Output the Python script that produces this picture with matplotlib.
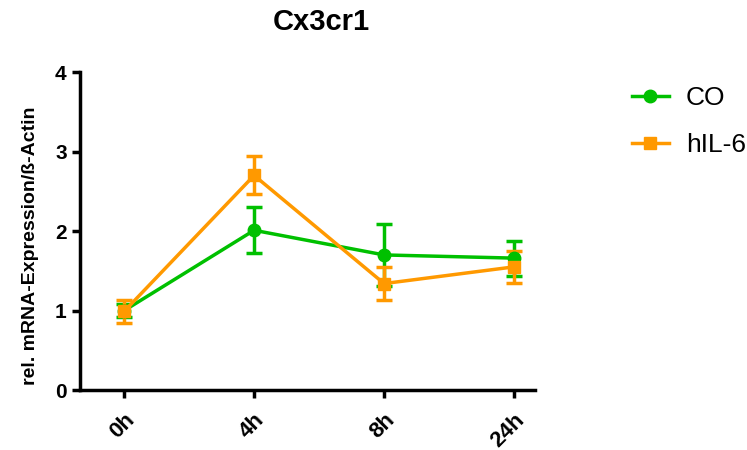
import matplotlib
matplotlib.use('Agg')
import matplotlib.pyplot as plt
from matplotlib.lines import Line2D
import numpy as np

plt.rcParams['font.family'] = ['Liberation Sans', 'DejaVu Sans']

times = ['0h', '4h', '8h', '24h']
co_mean = [1.0, 2.01, 1.70, 1.66]
co_err = [0.08, 0.29, 0.39, 0.22]
il6_mean = [0.99, 2.70, 1.34, 1.55]
il6_err = [0.14, 0.24, 0.21, 0.20]

green = '#00c000'
orange = '#ff9900'

fig = plt.figure(figsize=(7.47, 4.5), dpi=100)
ax = fig.add_axes([0.107, 0.133, 0.609, 0.707])

x = np.arange(len(times))
ax.errorbar(x, co_mean, yerr=co_err, color=green, marker='o', markersize=9,
            lw=2.5, capsize=6, capthick=2.5, elinewidth=2.5)
ax.errorbar(x, il6_mean, yerr=il6_err, color=orange, marker='s', markersize=9,
            lw=2.5, capsize=6, capthick=2.5, elinewidth=2.5)

ax.set_xlim(-0.34, 3.16)
ax.set_ylim(0, 4)
ax.set_yticks([0, 1, 2, 3, 4])
ax.set_xticks(x)
ax.set_xticklabels(times, rotation=45, ha='right', rotation_mode='anchor')
for lab in ax.get_yticklabels():
    lab.set_fontweight('bold')
    lab.set_fontsize(15)
for lab in ax.get_xticklabels():
    lab.set_fontweight('bold')
    lab.set_fontsize(16)
ax.tick_params(width=2.5, length=6, direction='out')
ax.tick_params(axis='x', pad=8)
ax.spines['top'].set_visible(False)
ax.spines['right'].set_visible(False)
ax.spines['left'].set_linewidth(2.5)
ax.spines['bottom'].set_linewidth(2.5)
ax.set_ylabel('rel. mRNA-Expression/ß-Actin', fontsize=14, fontweight='bold')
ax.yaxis.set_label_coords(-0.09, 0.455)

fig.text(0.43, 0.95, 'Cx3cr1', fontsize=21, fontweight='bold', ha='center', va='center')

handles = [Line2D([], [], color=green, marker='o', markersize=9, lw=2.5),
           Line2D([], [], color=orange, marker='s', markersize=9, lw=2.5)]
ax.legend(handles, ['CO', 'hIL-6'], loc='upper left', bbox_to_anchor=(1.213, 0.955),
          frameon=False, fontsize=19, handlelength=1.4, handletextpad=0.65,
          labelspacing=0.85, borderpad=0, borderaxespad=0)

fig.savefig('out.png', dpi=100)
